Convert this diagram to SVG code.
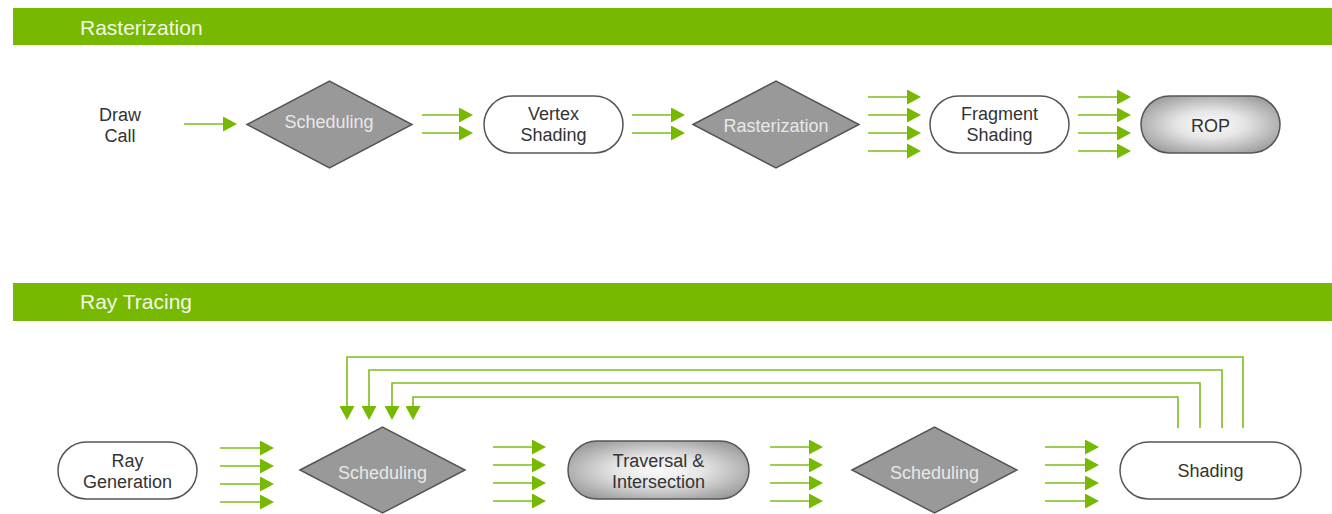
<svg xmlns="http://www.w3.org/2000/svg" width="1332" height="514" viewBox="0 0 1332 514">
<defs>
<style>
.banner{fill:#76b900}
.btxt{font-family:"Liberation Sans",Arial,sans-serif;font-size:21px;fill:#f2f7e6}
.pill{fill:#fff;stroke:#555;stroke-width:1.5}
.gpill{fill:url(#g);stroke:#555;stroke-width:1.5}
.dia{fill:#999;stroke:#555;stroke-width:1.5}
.t{font-family:"Liberation Sans",Arial,sans-serif;font-size:18px;fill:#333;text-anchor:middle}
.dt{font-family:"Liberation Sans",Arial,sans-serif;font-size:18px;fill:#e8e8e8;text-anchor:middle}
.c{fill:none;stroke:#7dbd1c;stroke-width:1.6;marker-end:url(#a)}
</style>
<marker id="a" viewBox="0 0 14 15" refX="0" refY="7.5" markerWidth="14" markerHeight="15" markerUnits="userSpaceOnUse" orient="auto">
<path d="M0,0 L14,7.5 L0,15 Z" fill="#76b900"/>
</marker>
<radialGradient id="g" cx="50%" cy="50%" r="60%">
<stop offset="0" stop-color="#fbfbfb"/>
<stop offset="0.4" stop-color="#e6e6e6"/>
<stop offset="1" stop-color="#9a9a9a"/>
</radialGradient>
</defs>
<rect width="1332" height="514" fill="#fff"/>

<g id="banner-raster">
<rect class="banner" x="13" y="8" width="1319" height="37"/>
<text class="btxt" x="80" y="35">Rasterization</text>
</g>
<g id="banner-ray">
<rect class="banner" x="13" y="283" width="1319" height="38"/>
<text class="btxt" x="80" y="309">Ray Tracing</text>
</g>

<g id="draw-call">
<text class="t" x="120" y="121">Draw</text>
<text class="t" x="120" y="142">Call</text>
</g>
<g id="scheduling-1">
<polygon class="dia" points="247,124.5 329.5,81 412,124.5 329.5,168"/>
<text class="dt" x="329" y="128">Scheduling</text>
</g>
<g id="vertex-shading">
<rect class="pill" x="484" y="96" width="139" height="57" rx="28.5"/>
<text class="t" x="553.5" y="120">Vertex</text>
<text class="t" x="553.5" y="141">Shading</text>
</g>
<g id="rasterization">
<polygon class="dia" points="693,124.5 776,81 859,124.5 776,168"/>
<text class="dt" x="776" y="132">Rasterization</text>
</g>
<g id="fragment-shading">
<rect class="pill" x="930" y="96" width="139" height="57" rx="28.5"/>
<text class="t" x="999.5" y="120">Fragment</text>
<text class="t" x="999.5" y="141">Shading</text>
</g>
<g id="rop">
<rect class="gpill" x="1141" y="96" width="139" height="57" rx="28.5"/>
<text class="t" x="1210.5" y="132">ROP</text>
</g>

<g id="ray-generation">
<rect class="pill" x="58" y="442" width="139" height="57" rx="28.5"/>
<text class="t" x="127.5" y="467">Ray</text>
<text class="t" x="127.5" y="488">Generation</text>
</g>
<g id="scheduling-2">
<polygon class="dia" points="300,470 382.5,427 465,470 382.5,513"/>
<text class="dt" x="382.5" y="479">Scheduling</text>
</g>
<g id="traversal-intersection">
<rect class="gpill" x="568" y="441" width="181" height="58" rx="29"/>
<text class="t" x="658.5" y="467">Traversal &amp;</text>
<text class="t" x="658.5" y="488">Intersection</text>
</g>
<g id="scheduling-3">
<polygon class="dia" points="852,470 934.5,427 1017,470 934.5,513"/>
<text class="dt" x="934.5" y="479">Scheduling</text>
</g>
<g id="shading">
<rect class="pill" x="1120" y="442" width="181" height="57" rx="28.5"/>
<text class="t" x="1210.5" y="477">Shading</text>
</g>

<g id="connectors">
<line class="c" x1="184" y1="124" x2="223" y2="124"/>
<line class="c" x1="422" y1="115" x2="459" y2="115"/>
<line class="c" x1="422" y1="133" x2="459" y2="133"/>
<line class="c" x1="632" y1="115" x2="671" y2="115"/>
<line class="c" x1="632" y1="133" x2="671" y2="133"/>
<line class="c" x1="868" y1="97" x2="907" y2="97"/>
<line class="c" x1="868" y1="115" x2="907" y2="115"/>
<line class="c" x1="868" y1="133" x2="907" y2="133"/>
<line class="c" x1="868" y1="151" x2="907" y2="151"/>
<line class="c" x1="1078" y1="97" x2="1117" y2="97"/>
<line class="c" x1="1078" y1="115" x2="1117" y2="115"/>
<line class="c" x1="1078" y1="133" x2="1117" y2="133"/>
<line class="c" x1="1078" y1="151" x2="1117" y2="151"/>

<line class="c" x1="220" y1="448" x2="260" y2="448"/>
<line class="c" x1="220" y1="466" x2="260" y2="466"/>
<line class="c" x1="220" y1="484" x2="260" y2="484"/>
<line class="c" x1="220" y1="502" x2="260" y2="502"/>
<line class="c" x1="493" y1="447" x2="532" y2="447"/>
<line class="c" x1="493" y1="465" x2="532" y2="465"/>
<line class="c" x1="493" y1="483" x2="532" y2="483"/>
<line class="c" x1="493" y1="501" x2="532" y2="501"/>
<line class="c" x1="770" y1="447" x2="809" y2="447"/>
<line class="c" x1="770" y1="465" x2="809" y2="465"/>
<line class="c" x1="770" y1="483" x2="809" y2="483"/>
<line class="c" x1="770" y1="501" x2="809" y2="501"/>
<line class="c" x1="1045" y1="447" x2="1085" y2="447"/>
<line class="c" x1="1045" y1="465" x2="1085" y2="465"/>
<line class="c" x1="1045" y1="483" x2="1085" y2="483"/>
<line class="c" x1="1045" y1="501" x2="1085" y2="501"/>

<polyline class="c" points="1243,428 1243,357 347,357 347,406"/>
<polyline class="c" points="1222,428 1222,370 369,370 369,406"/>
<polyline class="c" points="1200,428 1200,383 392,383 392,406"/>
<polyline class="c" points="1178,428 1178,397 413,397 413,406"/>
</g>
</svg>
